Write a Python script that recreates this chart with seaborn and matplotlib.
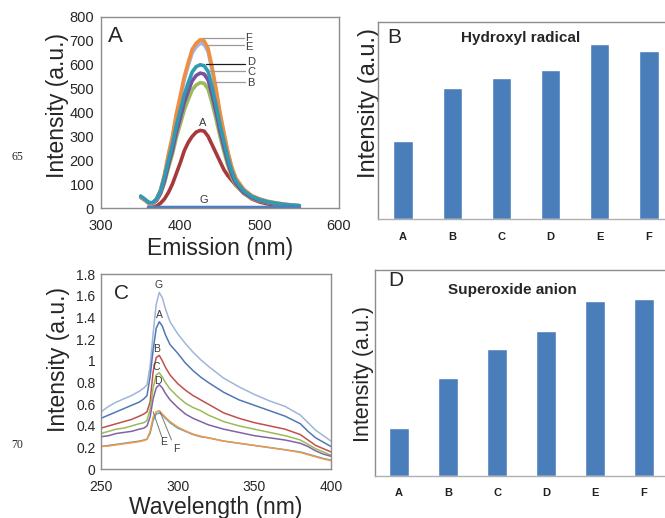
import numpy as np
import pandas as pd
import matplotlib
matplotlib.use("Agg")
import matplotlib.pyplot as plt
import seaborn as sns

sns.set_style("white")
plt.rcParams['font.family'] = ['Liberation Sans', 'DejaVu Sans']

# ---------------- Panel A: emission spectra ----------------
em_wl = [350, 355, 360, 365, 370, 375, 380, 385, 390, 395, 400, 405, 410, 415, 420, 425,
         430, 435, 440, 445, 450, 455, 460, 465, 470, 480, 490, 500, 510, 520, 530, 540, 550]
em_A = [np.nan, np.nan, 3, 2, 8, 20, 38, 65, 100, 145, 190, 240, 275, 300, 318, 325,
        322, 300, 265, 230, 195, 160, 135, 115, 95, 62, 38, 25, 17, 12, 8, 5, 3]
em_B = [45, 33, 20, 18, 30, 58, 105, 168, 225, 295, 352, 410, 455, 495, 515, 525,
        522, 498, 440, 373, 300, 236, 177, 128, 95, 60, 40, 29, 22, 17, 13, 10, 8]
em_C = [45, 34, 21, 19, 32, 62, 113, 180, 242, 317, 378, 442, 490, 533, 555, 565,
        561, 536, 474, 401, 322, 254, 190, 138, 102, 64, 43, 31, 23, 18, 14, 11, 8]
em_D = [50, 38, 24, 22, 38, 72, 130, 200, 265, 345, 410, 475, 525, 570, 592, 600,
        596, 572, 508, 432, 350, 278, 210, 153, 113, 72, 48, 35, 26, 20, 15, 12, 10]
em_E = [48, 36, 23, 21, 37, 73, 137, 220, 293, 385, 460, 538, 597, 650, 675, 690,
        685, 654, 578, 490, 392, 308, 230, 166, 122, 76, 51, 37, 27, 21, 16, 12, 10]
em_F = [45, 35, 22, 20, 38, 75, 140, 225, 300, 395, 470, 550, 610, 665, 690, 705,
        700, 668, 590, 500, 400, 315, 235, 170, 125, 78, 52, 38, 28, 22, 17, 13, 10]
em_G = [np.nan, np.nan, 3, 2, 2, 2, 2, 2, 2, 2, 2, 2, 2, 2, 2, 2,
        2, 2, 2, 2, 2, 2, 2, 2, 2, 2, 2, 2, 2, 2, 2, 2, 2]

# ---------------- Panel C: absorbance/intensity spectra ----------------
ab_wl = [250, 255, 260, 265, 270, 275, 278, 280, 282, 284, 286, 288, 290, 292, 295, 300,
         305, 310, 315, 320, 330, 340, 350, 360, 370, 380, 385, 390, 395, 400]
ab_G = [0.53, 0.58, 0.62, 0.65, 0.68, 0.72, 0.75, 0.78, 0.95, 1.25, 1.52, 1.63, 1.58, 1.48, 1.36, 1.25,
        1.16, 1.08, 1.01, 0.95, 0.84, 0.76, 0.69, 0.63, 0.58, 0.50, 0.43, 0.36, 0.31, 0.26]
ab_A = [0.47, 0.50, 0.53, 0.56, 0.59, 0.62, 0.65, 0.68, 0.85, 1.10, 1.30, 1.36, 1.32, 1.24, 1.15, 1.07,
        0.98, 0.91, 0.85, 0.80, 0.71, 0.64, 0.59, 0.54, 0.49, 0.42, 0.35, 0.29, 0.25, 0.21]
ab_B = [0.38, 0.40, 0.42, 0.44, 0.46, 0.49, 0.51, 0.53, 0.62, 0.90, 1.03, 1.05, 1.00, 0.94, 0.87, 0.79,
        0.73, 0.68, 0.64, 0.60, 0.52, 0.47, 0.43, 0.40, 0.37, 0.32, 0.27, 0.22, 0.19, 0.16]
ab_C = [0.33, 0.35, 0.37, 0.38, 0.40, 0.42, 0.43, 0.45, 0.55, 0.75, 0.87, 0.89, 0.85, 0.80, 0.74, 0.67,
        0.61, 0.57, 0.54, 0.50, 0.44, 0.40, 0.37, 0.34, 0.31, 0.27, 0.23, 0.19, 0.16, 0.13]
ab_D = [0.30, 0.31, 0.33, 0.34, 0.35, 0.37, 0.38, 0.40, 0.48, 0.65, 0.75, 0.78, 0.75, 0.70, 0.64, 0.57,
        0.51, 0.47, 0.44, 0.41, 0.37, 0.34, 0.31, 0.29, 0.27, 0.24, 0.21, 0.17, 0.14, 0.12]
ab_E = [0.21, 0.22, 0.23, 0.24, 0.25, 0.26, 0.27, 0.28, 0.33, 0.45, 0.51, 0.52, 0.50, 0.47, 0.43, 0.38,
        0.35, 0.32, 0.30, 0.29, 0.26, 0.24, 0.22, 0.20, 0.18, 0.16, 0.14, 0.12, 0.10, 0.085]
ab_F = [0.21, 0.215, 0.225, 0.235, 0.245, 0.255, 0.265, 0.275, 0.35, 0.48, 0.53, 0.54, 0.51, 0.48, 0.44, 0.39,
        0.355, 0.325, 0.305, 0.29, 0.26, 0.24, 0.22, 0.20, 0.18, 0.155, 0.135, 0.115, 0.095, 0.08]

# ---------------- Panels B, D: bar charts ----------------
bar_cats = ["A", "B", "C", "D", "E", "F"]
hydroxyl = [0.398, 0.663, 0.717, 0.754, 0.890, 0.853]
superoxide = [0.231, 0.474, 0.615, 0.704, 0.851, 0.859]


def long_df(wl, series):
    rows = []
    for name, vals in series.items():
        for w, v in zip(wl, vals):
            if not (isinstance(v, float) and np.isnan(v)):
                rows.append((w, v, name))
    return pd.DataFrame(rows, columns=["wl", "val", "sample"])


W, H = 665, 518
fig = plt.figure(figsize=(W / 100, H / 100), dpi=100)


def rect(left, top, right, bottom):
    return [left / W, (H - bottom) / H, (right - left) / W, (bottom - top) / H]


spine_col = "#8c8c8c"
txt_col = "#3a3a3a"

# ---- Panel A ----
axA = fig.add_axes(rect(101, 17, 339, 208))
dfA = long_df(em_wl, {"A": em_A, "B": em_B, "C": em_C, "E": em_E, "F": em_F, "D": em_D, "G": em_G})
palA = {"A": "#A8393A", "B": "#9BBB59", "C": "#7A4F9E", "D": "#2E9AB3",
        "E": "#A2B5E6", "F": "#F08D3F", "G": "#4A7EC0"}
sns.lineplot(data=dfA, x="wl", y="val", hue="sample", palette=palA,
             hue_order=["A", "B", "C", "E", "F", "D", "G"], estimator=None, sort=False,
             linewidth=2.6, legend=False, ax=axA)
axA.set_xlim(300, 600)
axA.set_ylim(0, 800)
axA.set_xticks([300, 400, 500, 600])
axA.set_yticks(range(0, 801, 100))
axA.tick_params(labelsize=10.5, direction="in", length=3, color=spine_col, pad=5)
axA.tick_params(axis="x", pad=8)
axA.set_xlabel("Emission (nm)", fontsize=16.5, labelpad=3)
axA.set_ylabel("Intensity (a.u.)", fontsize=16.5)
axA.yaxis.set_label_coords(-0.135, 0.535)
axA.text(0.059, 0.90, "A", transform=axA.transAxes, fontsize=16, ha="center", va="center")
# leader lines and labels
lead = [("F", 427, 480, 711, 711, "#9a9a9a"), ("E", 433, 480, 684, 673, "#9a9a9a"),
        ("D", 432, 482, 604, 613, "#1a1a1a"), ("C", 436, 482, 574, 571, "#9a9a9a"),
        ("B", 440, 482, 529, 525, "#9a9a9a")]
for lab, x0, x1, yl, yt, c in lead:
    axA.plot([x0, x1], [yl, yl], color=c, lw=0.9)
    axA.text(x1 + 2, yt, lab, fontsize=8, color=txt_col, ha="left", va="center")
axA.text(428, 355, "A", fontsize=8, color=txt_col, ha="center", va="center")
axA.text(430, 33, "G", fontsize=8, color=txt_col, ha="center", va="center")

# ---- Panel C ----
axC = fig.add_axes(rect(101, 274, 331, 469.3))
dfC = long_df(ab_wl, {"G": ab_G, "A": ab_A, "B": ab_B, "C": ab_C, "D": ab_D, "E": ab_E, "F": ab_F})
palC = {"G": "#9FB6D8", "A": "#4F78B5", "B": "#C0504D", "C": "#9BBB59",
        "D": "#8064A2", "E": "#4BACC6", "F": "#F79646"}
sns.lineplot(data=dfC, x="wl", y="val", hue="sample", palette=palC,
             hue_order=["G", "A", "B", "C", "D", "E", "F"], estimator=None, sort=False,
             linewidth=1.1, legend=False, ax=axC)
axC.set_xlim(250, 400)
axC.set_ylim(0, 1.8)
axC.set_xticks([250, 300, 350, 400])
yt = [0, 0.2, 0.4, 0.6, 0.8, 1.0, 1.2, 1.4, 1.6, 1.8]
axC.set_yticks(yt)
axC.set_yticklabels(["0", "0.2", "0.4", "0.6", "0.8", "1", "1.2", "1.4", "1.6", "1.8"])
axC.tick_params(labelsize=10, direction="in", length=2, color=spine_col, pad=4)
axC.tick_params(axis="x", pad=8)
axC.set_xlabel("Wavelength (nm)", fontsize=16.5, labelpad=1.5)
axC.set_ylabel("Intensity (a.u.)", fontsize=16.5)
axC.yaxis.set_label_coords(-0.135, 0.56)
axC.text(0.09, 0.899, "C", transform=axC.transAxes, fontsize=15, ha="center", va="center")
for lab, x, y in [("G", 287.6, 1.70), ("A", 288, 1.42), ("B", 286.3, 1.11),
                  ("C", 286.3, 0.94), ("D", 287.4, 0.815)]:
    axC.text(x, y, lab, fontsize=7.5, color=txt_col, ha="center", va="center")
axC.plot([284, 289.6], [0.53, 0.30], color="#777777", lw=0.7)
axC.plot([288.5, 296], [0.53, 0.27], color="#777777", lw=0.7)
axC.text(290.6, 0.25, "E", fontsize=7.5, color=txt_col, ha="center", va="center")
axC.text(299.4, 0.185, "F", fontsize=7.5, color=txt_col, ha="center", va="center")

# ---- Bar panels ----
def bar_panel(r, vals, title, letter, letter_pos, title_pos, ylab_coords, ylab_fs):
    ax = fig.add_axes(r)
    dfb = pd.DataFrame({"cat": bar_cats, "val": vals})
    sns.barplot(data=dfb, x="cat", y="val", color="#4A7EBB", saturation=1,
                width=0.39, ax=ax)
    ax.set_xlim(-0.5, 5.5)
    ax.set_ylim(0, 1)
    ax.set_yticks([])
    ax.set_xlabel("")
    ax.set_ylabel("Intensity (a.u.)", fontsize=ylab_fs)
    ax.yaxis.set_label_coords(*ylab_coords)
    ax.set_xticks(np.arange(-0.5, 6, 1), minor=True)
    ax.tick_params(axis="x", which="major", length=0, pad=9)
    ax.tick_params(axis="x", which="minor", length=3, direction="out", color="#b0b0b0")
    for t in ax.get_xticklabels():
        t.set_fontweight("bold")
        t.set_fontsize(8)
        t.set_color("#202020")
    ax.text(*title_pos, title, transform=ax.transAxes, fontsize=11, fontweight="bold",
            ha="center", va="center")
    ax.text(*letter_pos, letter, transform=ax.transAxes, fontsize=15, ha="center", va="center")
    return ax

axB = bar_panel(rect(378.4, 22, 673.6, 219), hydroxyl, "Hydroxyl radical", "B",
                (0.055, 0.919), (0.482, 0.919), (0.005, 0.59), 17)
axD = bar_panel(rect(374.5, 270, 668.5, 476), superoxide, "Superoxide anion", "D",
                (0.071, 0.947), (0.468, 0.903), (0.0, 0.495), 15.5)

for ax in (axA, axB, axC, axD):
    for s in ax.spines.values():
        s.set_color(spine_col)
        s.set_linewidth(1.0)
for ax in (axB, axD):
    ax.spines["bottom"].set_color("#b0b0b0")

# line numbers of the source page
fig.text(17.5 / W, 1 - 157 / H, "65", fontsize=8.5, family="Liberation Serif", ha="center", va="center")
fig.text(17.5 / W, 1 - 445 / H, "70", fontsize=8.5, family="Liberation Serif", ha="center", va="center")

fig.savefig("out.png", dpi=100)
